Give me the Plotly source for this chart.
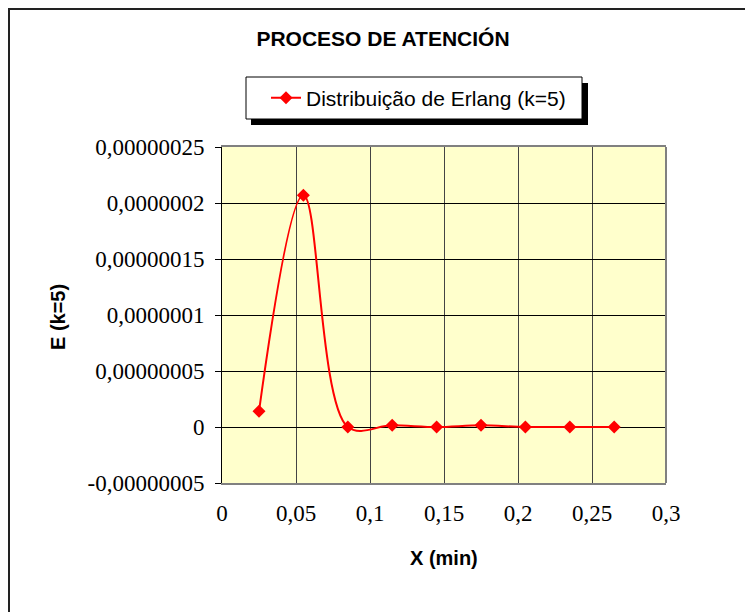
import plotly.graph_objects as go

# Data
x_min = [0.025, 0.055, 0.085, 0.115, 0.145, 0.175, 0.205, 0.235, 0.265]
e_k5 = [1.4e-8, 2.07e-7, 0.0, 1.5e-9, 0.0, 1.5e-9, 0.0, 0.0, 0.0]
series_name = "Distribuição de Erlang (k=5)"

x_tickvals = [0, 0.05, 0.1, 0.15, 0.2, 0.25, 0.3]
x_ticktext = ["0", "0,05", "0,1", "0,15", "0,2", "0,25", "0,3"]
y_tickvals = [-0.5e-7, 0, 0.5e-7, 1e-7, 1.5e-7, 2e-7, 2.5e-7]
y_ticktext = ["-0,00000005", "0", "0,00000005", "0,0000001",
              "0,00000015", "0,0000002", "0,00000025"]

OFF = 0  # body margin removed by post_script
W, H = 760, 630
# plot area in page pixels: x 222..666, y 147..483
PL, PR, PT, PB = 222, 666, 147, 483
L, R, T, B = PL - OFF, W - (PR - OFF), PT - OFF, H - (PB - OFF)
pw, ph = PR - PL, PB - PT

def px_x(p):
    return (p - PL) / pw

def px_y(p):
    return (PB - p) / ph

fig = go.Figure()
fig.add_trace(go.Scatter(
    x=x_min, y=e_k5, name=series_name, mode="lines+markers",
    line=dict(color="#FF0000", width=2, shape="spline", smoothing=1.0),
    marker=dict(symbol="diamond", size=10, color="#FF0000"),
    showlegend=True,
))

sans = "Liberation Sans, Arial, sans-serif"
serif = "Liberation Serif, Times New Roman, serif"

fig.update_layout(
    width=W, height=H, autosize=False,
    margin=dict(l=L, r=R, t=T, b=B, pad=0),
    paper_bgcolor="white", plot_bgcolor="#FFFFCC",
    title=dict(text="<b>PROCESO DE ATENCIÓN</b>",
               font=dict(family=sans, size=21, color="black"),
               xref="paper", x=px_x(383), xanchor="center",
               yref="container", y=1 - (39 - OFF) / H, yanchor="middle"),
    showlegend=True,
    legend=dict(x=px_x(266), y=px_y(98), xanchor="left", yanchor="middle",
                bgcolor="rgba(0,0,0,0)", borderwidth=0,
                font=dict(family=sans, size=21, color="black")),
    xaxis=dict(range=[0, 0.3], tickvals=x_tickvals, ticktext=x_ticktext,
               showgrid=True, gridcolor="#444444", gridwidth=1,
               zeroline=False, showline=True, linecolor="#808080",
               linewidth=2, mirror=True, ticks="", ticklabelstandoff=8,
               tickfont=dict(family=serif, size=23, color="black"),
               title=None, fixedrange=True),
    yaxis=dict(range=[-0.5e-7, 2.5e-7], tickvals=y_tickvals, ticktext=y_ticktext,
               showgrid=True, gridcolor="black", gridwidth=1,
               zeroline=True, zerolinecolor="black", zerolinewidth=1,
               showline=True, linecolor="black", linewidth=1,
               ticks="outside", ticklen=6, tickcolor="black",
               ticklabelstandoff=6,
               tickfont=dict(family=serif, size=23, color="black"),
               title=None, fixedrange=True),
    shapes=[
        # right plot border
        dict(type="line", xref="paper", yref="paper", x0=1, x1=1, y0=0, y1=1,
             line=dict(color="#808080", width=2), layer="above"),
        # outer chart frame: left and top sides
        dict(type="line", xref="paper", yref="paper",
             x0=px_x(9), x1=px_x(9), y0=px_y(8), y1=px_y(640),
             line=dict(color="#222222", width=2), layer="below"),
        dict(type="line", xref="paper", yref="paper",
             x0=px_x(8), x1=px_x(770), y0=px_y(9), y1=px_y(9),
             line=dict(color="#222222", width=2), layer="below"),
        # legend shadow
        dict(type="rect", xref="paper", yref="paper",
             x0=px_x(251), x1=px_x(588), y0=px_y(83), y1=px_y(125),
             fillcolor="black", line=dict(width=0), layer="above"),
        # legend box
        dict(type="rect", xref="paper", yref="paper",
             x0=px_x(246), x1=px_x(582), y0=px_y(77), y1=px_y(119),
             fillcolor="white", line=dict(color="black", width=1), layer="above"),
    ],
    annotations=[
        dict(text="<b>X (min)</b>", xref="paper", yref="paper",
             x=px_x(444), y=px_y(558), xanchor="center", yanchor="middle",
             showarrow=False, font=dict(family=sans, size=20, color="black")),
        dict(text="<b>E (k=5)</b>", xref="paper", yref="paper",
             x=px_x(58), y=px_y(317), xanchor="center", yanchor="middle",
             textangle=-90, showarrow=False,
             font=dict(family=sans, size=20, color="black")),
    ],
)

fig.write_html(
    "out.html",
    config={"displayModeBar": False},
    post_script="document.body.style.margin='0';"
                "document.body.style.overflow='hidden';"
                "document.documentElement.style.overflow='hidden';",
)
